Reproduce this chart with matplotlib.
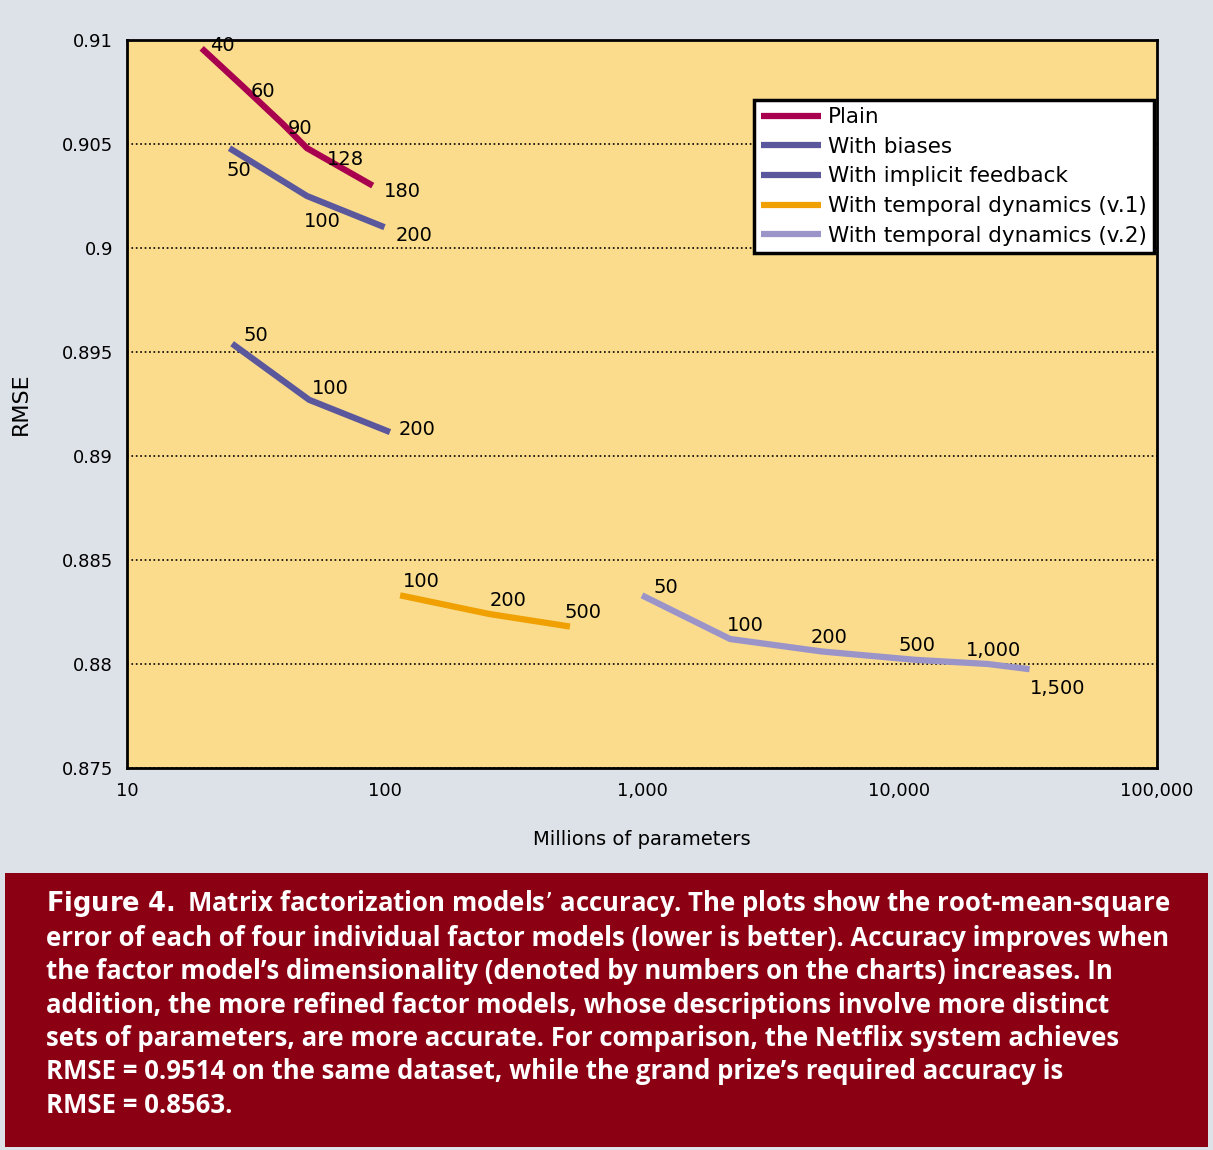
import matplotlib
matplotlib.use("Agg")
import matplotlib.pyplot as plt
from matplotlib.patches import Rectangle

plain_x = [19.5, 28, 40, 50, 90]
plain_y = [0.9096, 0.9078, 0.9060, 0.9048, 0.9030]
plain_lab = ["40", "60", "90", "128", "180"]
bias_x = [25, 50, 100]
bias_y = [0.9048, 0.9025, 0.9010]
bias_lab = ["50", "100", "200"]
impl_x = [25.6, 51, 105]
impl_y = [0.8954, 0.8927, 0.89115]
impl_lab = ["50", "100", "200"]
t1_x = [115, 256, 525]
t1_y = [0.8833, 0.8824, 0.8818]
t1_lab = ["100", "200", "500"]
t2_x = [1000, 2200, 5000, 11500, 22000, 32000]
t2_y = [0.8833, 0.8812, 0.8806, 0.8802, 0.8800, 0.87975]
t2_lab = ["50", "100", "200", "500", "1,000", "1,500"]

fig = plt.figure(figsize=(12.13, 11.5), dpi=100, facecolor="#dde1e8")
fig.patches.append(Rectangle((0.004, 0.003), 0.992, 0.238, transform=fig.transFigure,
                             facecolor="#8c0014", edgecolor="none"))
ax = fig.add_axes([0.1047, 0.3322, 0.8491, 0.633])
ax.set_facecolor("#fadc8c")
for s in ax.spines.values():
    s.set_linewidth(2)
ax.set_xscale("log")
ax.set_xlim(10, 100000)
ax.set_ylim(0.875, 0.91)
ax.set_yticks([0.875, 0.88, 0.885, 0.89, 0.895, 0.9, 0.905, 0.91])
ax.set_yticklabels(["0.875", "0.88", "0.885", "0.89", "0.895", "0.9", "0.905", "0.91"])
ax.set_xticks([10, 100, 1000, 10000, 100000])
ax.set_xticklabels(["10", "100", "1,000", "10,000", "100,000"])
ax.minorticks_off()
ax.tick_params(length=0, labelsize=13, pad=10)
ax.yaxis.grid(True, color="black", linestyle=":", linewidth=1.2)
ax.set_ylabel("RMSE", fontsize=16, labelpad=22)
ax.set_xlabel("Millions of parameters", fontsize=14, labelpad=22)

series = [
    (plain_x, plain_y, plain_lab, "#a8004e", "Plain", [(6, -2), (6, -8), (4, -8), (14, -12), (8, -8)]),
    (bias_x, bias_y, bias_lab, "#5b579c", "With biases", [(-2, -20), (-2, -22), (8, -10)]),
    (impl_x, impl_y, impl_lab, "#5b579c", "With implicit feedback", [(8, 2), (2, 4), (6, -2)]),
    (t1_x, t1_y, t1_lab, "#f0a000", "With temporal dynamics (v.1)", [(2, 6), (0, 6), (-4, 6)]),
    (t2_x, t2_y, t2_lab, "#9b94c9", "With temporal dynamics (v.2)", [(8, 2), (-2, 6), (-8, 6), (-12, 6), (-16, 6), (0, -18)]),
]
for x, y, lab, c, name, offs in series:
    ax.plot(x, y, color=c, lw=4.5, label=name, solid_capstyle="butt")
    for xi, yi, l, o in zip(x, y, lab, offs):
        ax.annotate(l, (xi, yi), xytext=o, textcoords="offset points", fontsize=14)

leg = ax.legend(loc="upper left", bbox_to_anchor=(0.598, 0.933), fontsize=15.5, frameon=True,
                fancybox=False, handlelength=2.8, handletextpad=0.3, borderpad=0.35,
                labelspacing=0.45)
leg.get_frame().set_edgecolor("black")
leg.get_frame().set_linewidth(2.5)
leg.get_frame().set_facecolor("white")
leg.get_frame().set_alpha(1)

cap = ("$\\bf{Figure\\ 4.}$ Matrix factorization models’ accuracy. The plots show the root-mean-square\n"
       "error of each of four individual factor models (lower is better). Accuracy improves when\n"
       "the factor model’s dimensionality (denoted by numbers on the charts) increases. In\n"
       "addition, the more refined factor models, whose descriptions involve more distinct\n"
       "sets of parameters, are more accurate. For comparison, the Netflix system achieves\n"
       "RMSE = 0.9514 on the same dataset, while the grand prize’s required accuracy is\n"
       "RMSE = 0.8563.")
fig.text(0.038, 0.228, cap, color="white", fontsize=18.5, va="top", ha="left",
         family="Open Sans", fontweight="bold", linespacing=1.3)
fig.savefig("out.png", dpi=100, facecolor=fig.get_facecolor())
